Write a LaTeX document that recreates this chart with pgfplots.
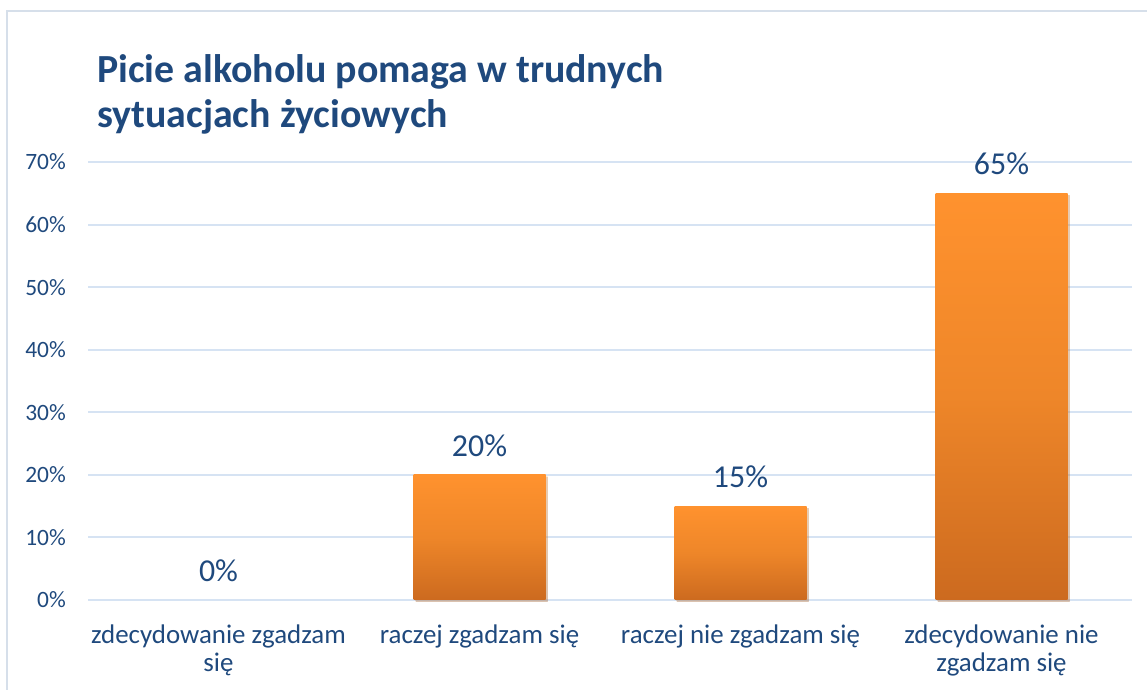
\documentclass[border=0pt]{standalone}
\usepackage{fontspec}
\setmainfont{Carlito}
\usepackage{pgfplots}
\usetikzlibrary{shadows}
\pgfplotsset{compat=1.18}
\definecolor{txt}{HTML}{1F497D}
\definecolor{gridc}{HTML}{D6E3F3}
\definecolor{framec}{HTML}{D6DFEA}
\definecolor{otop}{HTML}{FF922E}
\definecolor{omid}{HTML}{EE8629}
\definecolor{obot}{HTML}{CC6A1F}
\pgfplotsset{orangebar/.style={ybar, bar shift=0pt, bar width=132bp, draw=none,
  top color=otop, bottom color=obot, middle color=omid,
  drop shadow={shadow xshift=2bp, shadow yshift=-2bp, opacity=0.25, fill=gray}}}
\begin{document}
\begin{tikzpicture}[x=1bp,y=1bp]
\path[use as bounding box] (0,0) rectangle (1147,690);
\draw[framec, line width=2bp] (1160,679) -- (7,679) -- (7,-10);
\node[anchor=base west, font=\fontsize{40}{46}\selectfont\bfseries, text=txt, inner sep=0pt] at (97,607) {Picie alkoholu pomaga w trudnych};
\node[anchor=base west, font=\fontsize{40}{46}\selectfont\bfseries, text=txt, inner sep=0pt] at (97,562) {sytuacjach życiowych};
\begin{axis}[
  at={(88bp,90bp)}, anchor=south west,
  scale only axis, width=1044bp, height=438bp,
  xmin=-0.5, xmax=3.5, ymin=0, ymax=70,
  ytick={0,10,...,70},
  yticklabel={\pgfmathprintnumber{\tick}\%},
  /pgf/number format/assume math mode=true,
  xtick={0,1,2,3},
  xticklabels={{zdecydowanie zgadzam\\się},{raczej zgadzam się},{raczej nie zgadzam się},{zdecydowanie nie\\zgadzam się}},
  xticklabel style={align=center, font=\fontsize{27}{28}\selectfont, text=txt, inner sep=0pt, yshift=-25bp},
  yticklabel style={font=\fontsize{23.5}{27}\selectfont, text=txt, inner sep=0pt, xshift=-22bp},
  axis line style={draw=none},
  major tick length=0pt,
  ymajorgrids,
  grid style={gridc, line width=2bp},
  nodes near coords={\pgfmathprintnumber{\pgfplotspointmeta}\%},
  every node near coord/.append style={inner sep=0pt, yshift=18bp, font=\fontsize{32}{37}\selectfont, text=txt},
  clip=false,
]
\addplot[ybar, bar shift=0pt, bar width=132bp, draw=none, fill=none] coordinates {(0,0)};
\addplot[orangebar] coordinates {(1,20)};
\addplot[orangebar] coordinates {(2,15)};
\addplot[orangebar] coordinates {(3,65)};
\end{axis}
\end{tikzpicture}
\end{document}
